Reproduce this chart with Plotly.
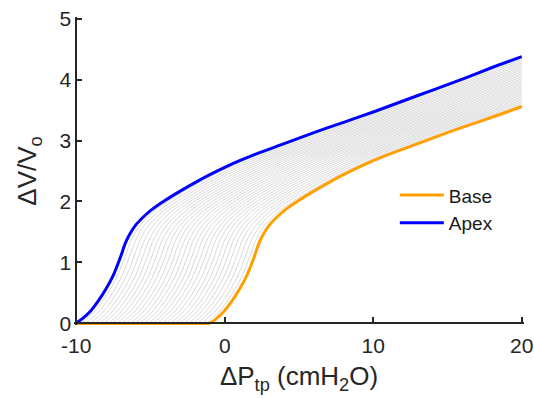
import numpy as np
import plotly.graph_objects as go

# Apex pressure-volume curve (shape shared by all regions)
apex_p = [-10, -9.5, -9.0, -8.5, -8.0, -7.5, -7.0, -6.7, -6.4, -6.0, -5.5, -5.0,
          -4.0, -3.0, -2.0, -1.0, 0, 1, 2, 4, 6, 8, 10, 12, 14, 16, 18, 20]
apex_v = [0, 0.09, 0.21, 0.37, 0.56, 0.79, 1.10, 1.31, 1.46, 1.61, 1.74, 1.85,
          2.02, 2.17, 2.31, 2.44, 2.56, 2.67, 2.77, 2.95, 3.13, 3.30, 3.47, 3.65,
          3.83, 4.01, 4.20, 4.38]

# Regional pleural-pressure offsets (cmH2O) from apex (0) to base (9.0)
region_offsets = [0.0, 0.3, 0.6, 0.9, 1.2, 1.5, 1.8, 2.1, 2.4, 2.7, 3.0, 3.3,
                  3.6, 3.9, 4.2, 4.5, 4.8, 5.1, 5.4, 5.7, 6.0, 6.3, 6.6, 6.9,
                  7.2, 7.5, 7.8, 8.1, 8.4, 8.7, 9.0]

x_ticks = [-10, 0, 10, 20]
x_labels = ["-10", "0", "10", "20"]
y_ticks = [0, 1, 2, 3, 4, 5]

P = np.array(apex_p, float)
V = np.array(apex_v, float)
XMAX = 20.0


def shifted(d):
    xs = P + d
    keep = xs <= XMAX
    x = list(xs[keep])
    y = list(V[keep])
    if x[-1] < XMAX:
        x.append(XMAX)
        y.append(float(np.interp(XMAX - d, P, V)))
    if d > 0:
        x = [-10.0] + x
        y = [0.0] + y
    return x, y


fig = go.Figure()
for d in region_offsets[1:-1]:
    x, y = shifted(d)
    fig.add_trace(go.Scatter(x=x, y=y, mode="lines",
                             line=dict(color="#c8c8c8", width=0.7, shape="spline", smoothing=0.8),
                             showlegend=False, hoverinfo="skip"))

bx, by = shifted(region_offsets[-1])
ax_, ay_ = shifted(region_offsets[0])
fig.add_trace(go.Scatter(x=bx, y=by, mode="lines", name="Base",
                         line=dict(color="#ffa000", width=3, shape="spline", smoothing=0.8)))
fig.add_trace(go.Scatter(x=ax_, y=ay_, mode="lines", name="Apex",
                         line=dict(color="#0000ff", width=3, shape="spline", smoothing=0.8)))

axcol = "#262626"
font = "Liberation Sans, Arial, sans-serif"
fig.update_layout(
    width=534, height=399,
    margin=dict(l=74, r=10, t=17, b=74),
    paper_bgcolor="white", plot_bgcolor="white",
    font=dict(family=font, color=axcol),
    legend=dict(x=0.713, y=0.483, xanchor="left", yanchor="top",
                font=dict(size=19, family=font, color="#1a1a1a"),
                bgcolor="rgba(0,0,0,0)", itemwidth=44, tracegroupgap=0),
    xaxis=dict(range=[-10.15, 20.15], tickvals=x_ticks, ticktext=x_labels, ticks="inside", ticklen=5,
               tickwidth=1.5, tickcolor=axcol, showline=True, linecolor=axcol, linewidth=1.5,
               showgrid=False, zeroline=False, anchor="free", position=0.03 / 5.06,
               automargin=False, ticklabelstandoff=4,
               tickfont=dict(size=21, family=font, color=axcol),
               title=dict(text="ΔP<sub>tp</sub> (cmH<sub>2</sub>O)", font=dict(size=26, family=font, color=axcol),
                          standoff=10)),
    yaxis=dict(range=[-0.03, 5.03], tickvals=y_ticks, ticks="inside", ticklen=5,
               tickwidth=1.5, tickcolor=axcol, showline=True, linecolor=axcol, linewidth=1.5,
               showgrid=False, zeroline=False, anchor="free", position=0.15 / 30.3,
               automargin=False,
               tickfont=dict(size=21, family=font, color=axcol),
               title=dict(text="ΔV/V<sub>o</sub>", font=dict(size=26, family=font, color=axcol),
                          standoff=14)),
)

fig.write_html("out.html")
